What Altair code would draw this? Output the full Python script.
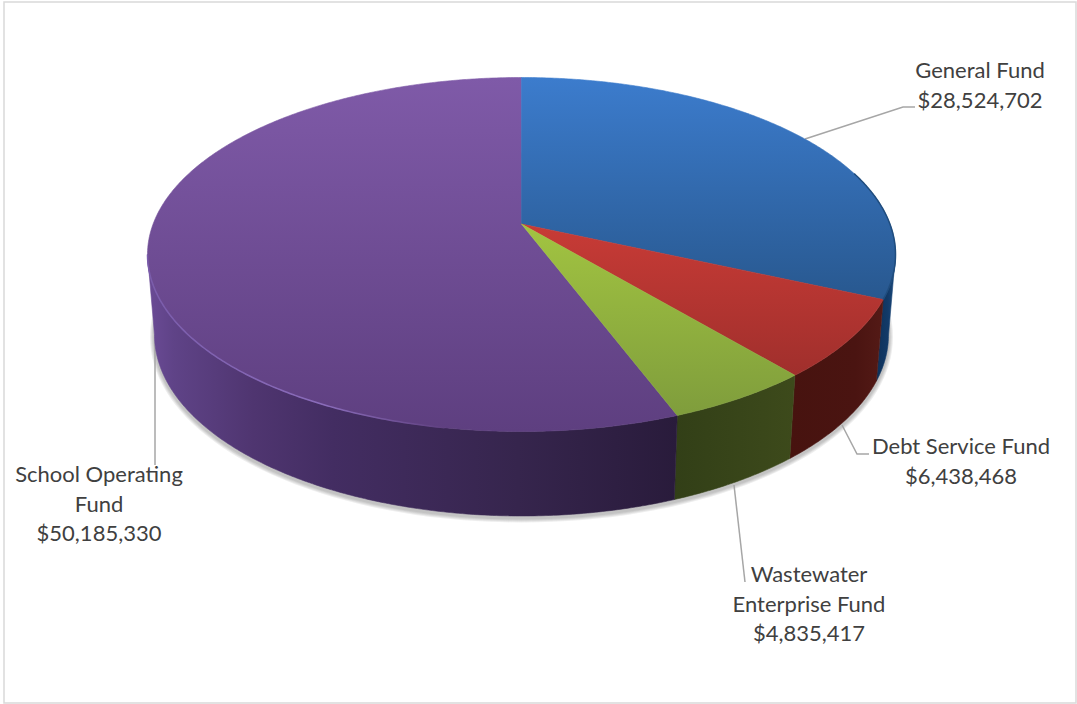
import numpy as np
import pandas as pd
import altair as alt

# Fund totals, clockwise from twelve o'clock
funds = ["General Fund", "Debt Service Fund", "Wastewater\nEnterprise Fund", "School Operating\nFund"]
amounts = [28524702, 6438468, 4835417, 50185330]

# Pixel-space placement of the tilted disc
TOP = dict(cx=521.5, cy=254.5, rx=374.0, ry=177.0)
BOTTOM = dict(cx=521.5, cy=335.0, rx=367.0, ry=181.0)
TILT = -0.172  # shift of the pie centre caused by perspective

# Each label is anchored at the middle of its first line
label_x = [980, 961, 809, 99]
label_y = [71, 447, 575, 475]
leaders = [
    [(805, 139), (903, 107), (915, 107)],
    [(842, 425), (857, 454), (869, 454)],
    [(734, 485), (745, 582)],
    [(155, 335), (155, 465)],
]

X = alt.X("x:Q", axis=None, scale=alt.Scale(domain=[4, 1076], nice=False, zero=False))
Y = alt.Y("y:Q", axis=None, scale=alt.Scale(domain=[703, 2], nice=False, zero=False))


def project(theta_deg, disc):
    """Perspective projection of a pie angle onto one of the two rim ellipses."""
    t = np.radians(np.asarray(theta_deg, dtype=float))
    px, py = np.sin(t), -np.cos(t)
    den = 1 + TILT * py
    u = px * np.sqrt(1 - TILT ** 2) / den
    v = (py + TILT) / den
    return disc["cx"] + disc["rx"] * u, disc["cy"] + disc["ry"] * v


def frame(xs, ys):
    return pd.DataFrame({"x": xs, "y": ys, "i": np.arange(len(xs))})


def polygon(df, fill, stroke_width=0.6):
    return (
        alt.Chart(df)
        .mark_line(interpolate="linear-closed", fill=fill, stroke=fill, strokeWidth=stroke_width)
        .encode(x=X, y=Y, order=alt.Order("i:Q"))
    )


def rim_line(a, b, stroke, width=1.5):
    xs, ys = project(arc_angles(a, b), TOP)
    return (
        alt.Chart(frame(xs, ys))
        .mark_line(strokeWidth=width, stroke=stroke)
        .encode(x=X, y=Y, order=alt.Order("i:Q"))
    )


def vertical(top, bottom):
    return alt.Gradient(
        gradient="linear", x1=0, y1=0, x2=0, y2=1,
        stops=[alt.GradientStop(offset=0, color=top), alt.GradientStop(offset=1, color=bottom)],
    )


def horizontal(*stops):
    return alt.Gradient(
        gradient="linear", x1=0, y1=0, x2=1, y2=0,
        stops=[alt.GradientStop(offset=o, color=c) for o, c in stops],
    )


def arc_angles(a, b):
    return np.linspace(a, b, max(int(abs(b - a) * 2), 2) + 1)


def top_face(a, b):
    xs, ys = project(arc_angles(a, b), TOP)
    cx, cy = TOP["cx"], TOP["cy"] + TOP["ry"] * TILT
    return frame(np.r_[cx, xs], np.r_[cy, ys])


def side_wall(a, b):
    th = arc_angles(a, b)
    x1, y1 = project(th, TOP)
    x2, y2 = project(th[::-1], BOTTOM)
    return frame(np.r_[x1, x2], np.r_[y1, y2])


shares = np.array(amounts) / sum(amounts) * 360
edges = np.r_[0, np.cumsum(shares)]
# Angles where the rim silhouette turns from visible to hidden
right_turn = 90 + np.degrees(np.arcsin(-TILT))
left_turn = 360 - right_turn

layers = []

# Soft shadow under the disc, built from widening translucent outlines
th_all = np.arange(0, 360, 2)
sx, sy = project(th_all, BOTTOM)
shadow = frame(sx, sy + 2)
for w in (9, 7, 5, 3):
    layers.append(
        alt.Chart(shadow)
        .mark_line(interpolate="linear-closed", stroke="#555555", strokeOpacity=0.1, strokeWidth=w)
        .encode(x=X, y=Y, order=alt.Order("i:Q"))
    )

# Leader lines run underneath the pie
for pts in leaders:
    df = frame([p[0] for p in pts], [p[1] for p in pts])
    layers.append(
        alt.Chart(df).mark_line(stroke="#a6a6a6", strokeWidth=1.5).encode(x=X, y=Y, order=alt.Order("i:Q"))
    )

# Outer walls, back to front
layers.append(polygon(side_wall(right_turn, edges[1]),
                      horizontal((0, "#0e3159"), (0.6, "#123a68"), (1, "#1d4c80"))))
layers.append(polygon(side_wall(edges[1], edges[2]),
                      horizontal((0, "#47130f"), (0.7, "#4a1411"), (1, "#541a16"))))
layers.append(polygon(side_wall(edges[2], edges[3]),
                      horizontal((0, "#323f17"), (1, "#3d4a1b"))))
layers.append(polygon(side_wall(edges[3], left_turn),
                      horizontal((0, "#6b4b96"), (0.05, "#5f4387"), (0.2, "#4f3570"),
                                 (0.35, "#432d62"), (0.7, "#36254d"), (1, "#291b3b"))))

# Top faces
layers.append(polygon(top_face(edges[3], 360), vertical("#7f5aa8", "#5e3f80")))
layers.append(polygon(top_face(edges[0], edges[1]), vertical("#3c7ccd", "#28588f")))
layers.append(polygon(top_face(edges[1], edges[2]), vertical("#c83b36", "#a02f2c")))
layers.append(polygon(top_face(edges[2], edges[3]), vertical("#a2c441", "#7f9d3c")))

# Bevels: light along the front of the school segment, dark on the general segment's right edge
layers.append(rim_line(left_turn, 190, horizontal((0, "#7a5cab"), (0.6, "#8a6cba"), (1, "#5f4080"))))
layers.append(rim_line(72, edges[1], "#204d7e"))

# Labels state the fund name and its amount
labels = pd.DataFrame({
    "x": label_x,
    "y": label_y,
    "text": [f"{name}\n${value:,}" for name, value in zip(funds, amounts)],
})
layers.append(
    alt.Chart(labels)
    .mark_text(font="Lato", fontSize=22, color="#404040", lineBreak="\n", lineHeight=29.5,
               align="center", baseline="middle")
    .encode(x=X, y=Y, text="text:N")
)

chart = (
    alt.layer(*layers)
    .properties(
        width=1072, height=701,
        autosize=alt.AutoSizeParams(type="none"),
        padding={"left": 4, "top": 2, "right": 1, "bottom": 1},
        background="white",
    )
    .configure_view(stroke="#d9d9d9", strokeWidth=1.5)
)

chart.save("out.html", embed_options={"renderer": "svg", "actions": False})
